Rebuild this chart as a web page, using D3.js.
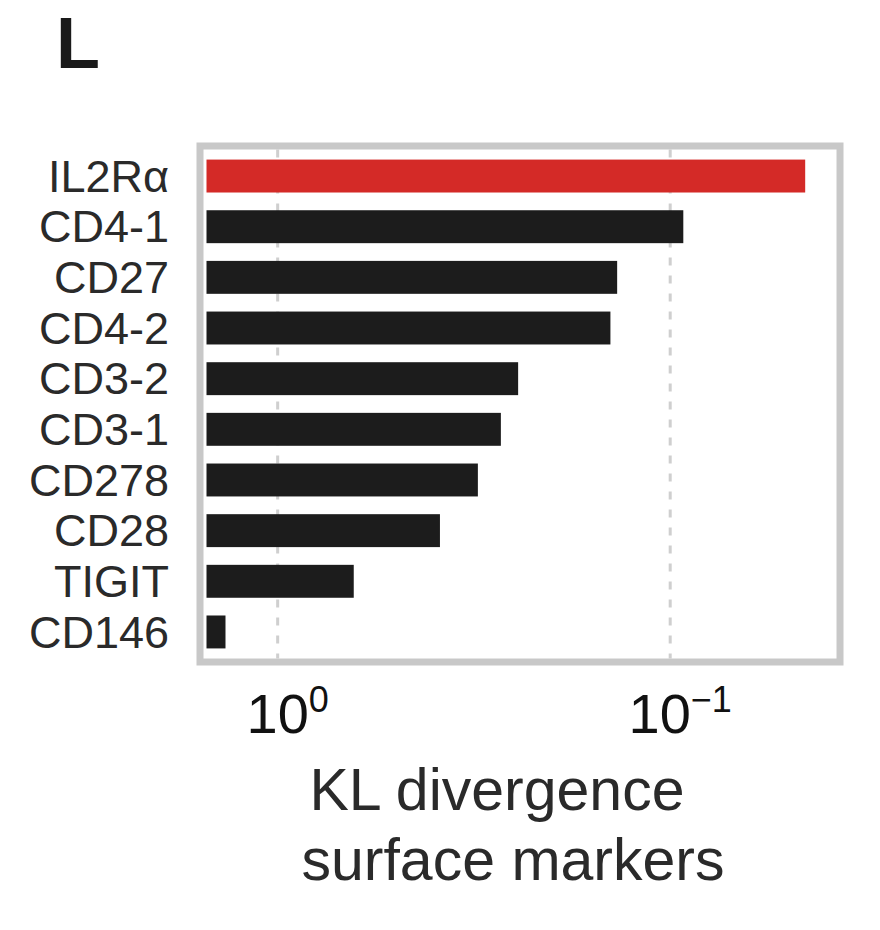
<!DOCTYPE html>
<html>
<head>
<meta charset="utf-8">
<script src="https://cdn.jsdelivr.net/npm/d3@7"></script>
<style>
  body { margin: 0; background: #fff; }
  text { font-family: "Liberation Sans", Arial, sans-serif; }
</style>
</head>
<body>
<div id="chart"></div>
<script>
// Data (KL divergence, log axis, reversed)
const markers = ['IL2R\u03B1', 'CD4-1', 'CD27', 'CD4-2', 'CD3-2', 'CD3-1', 'CD278', 'CD28', 'TIGIT', 'CD146'];
const klValues = [0.0453, 0.0926, 0.1365, 0.142, 0.244, 0.270, 0.309, 0.386, 0.640, 1.358];
const highlight = ['IL2R\u03B1'];
const tickValues = [1, 0.1];
const tickExponents = ['0', '\u22121'];

const width = 880, height = 930;
const frame = { left: 200, right: 840, top: 146, bottom: 662 };
const borderW = 7;

const svg = d3.select('#chart')
    .append('svg')
    .attr('width', width)
    .attr('height', height);

// Panel letter
svg.append('text')
    .attr('x', 56)
    .attr('y', 68)
    .attr('font-size', 72)
    .attr('font-weight', 'bold')
    .attr('fill', '#1a1a1a')
    .text('L');

const innerLeft = frame.left + borderW / 2;
const innerRight = frame.right - borderW / 2;

// reversed log scale: larger values on the left
const x = d3.scaleLog()
    .domain([1.545, 0.0377])
    .range([innerLeft, innerRight]);

const y = d3.scaleBand()
    .domain(markers)
    .range([frame.top + borderW / 2 + 4, frame.bottom - borderW / 2 - 4])
    .paddingInner(0.35)
    .paddingOuter(0.12);

// dashed gridlines
svg.selectAll('.grid')
    .data(tickValues)
    .enter()
    .append('line')
    .attr('class', 'grid')
    .attr('x1', d => x(d))
    .attr('x2', d => x(d))
    .attr('y1', frame.top + borderW / 2)
    .attr('y2', frame.bottom - borderW / 2)
    .attr('stroke', '#cfcfcf')
    .attr('stroke-width', 3)
    .attr('stroke-dasharray', '8,10');

// bars
const barStart = innerLeft + 3;
svg.selectAll('.bar')
    .data(markers)
    .enter()
    .append('rect')
    .attr('class', 'bar')
    .attr('x', barStart)
    .attr('y', d => y(d))
    .attr('width', (d, i) => x(klValues[i]) - barStart)
    .attr('height', y.bandwidth())
    .attr('fill', d => highlight.includes(d) ? '#d42a27' : '#1c1c1c');

// frame
svg.append('rect')
    .attr('x', frame.left)
    .attr('y', frame.top)
    .attr('width', frame.right - frame.left)
    .attr('height', frame.bottom - frame.top)
    .attr('fill', 'none')
    .attr('stroke', '#c8c8c8')
    .attr('stroke-width', borderW);

// category labels
svg.selectAll('.label')
    .data(markers)
    .enter()
    .append('text')
    .attr('class', 'label')
    .attr('x', 169)
    .attr('y', d => y(d) + y.bandwidth() / 2)
    .attr('dy', '0.35em')
    .attr('text-anchor', 'end')
    .attr('font-size', 45)
    .attr('fill', '#2a2a2a')
    .text(d => d);

// tick labels with superscript exponent
const ticks = svg.selectAll('.tick')
    .data(tickValues)
    .enter()
    .append('text')
    .attr('class', 'tick')
    .attr('x', d => x(d) + 10)
    .attr('y', 733)
    .attr('text-anchor', 'middle')
    .attr('font-size', 56)
    .attr('fill', '#111');
ticks.append('tspan').text('10');
ticks.append('tspan')
    .attr('dy', -21)
    .attr('font-size', 36)
    .text((d, i) => tickExponents[i]);

// axis title
const title = svg.append('text')
    .attr('text-anchor', 'middle')
    .attr('font-size', 59)
    .attr('fill', '#2a2a2a');
title.append('tspan').attr('x', 497).attr('y', 810).text('KL divergence');
title.append('tspan').attr('x', 513).attr('y', 880).text('surface markers');
</script>
</body>
</html>
